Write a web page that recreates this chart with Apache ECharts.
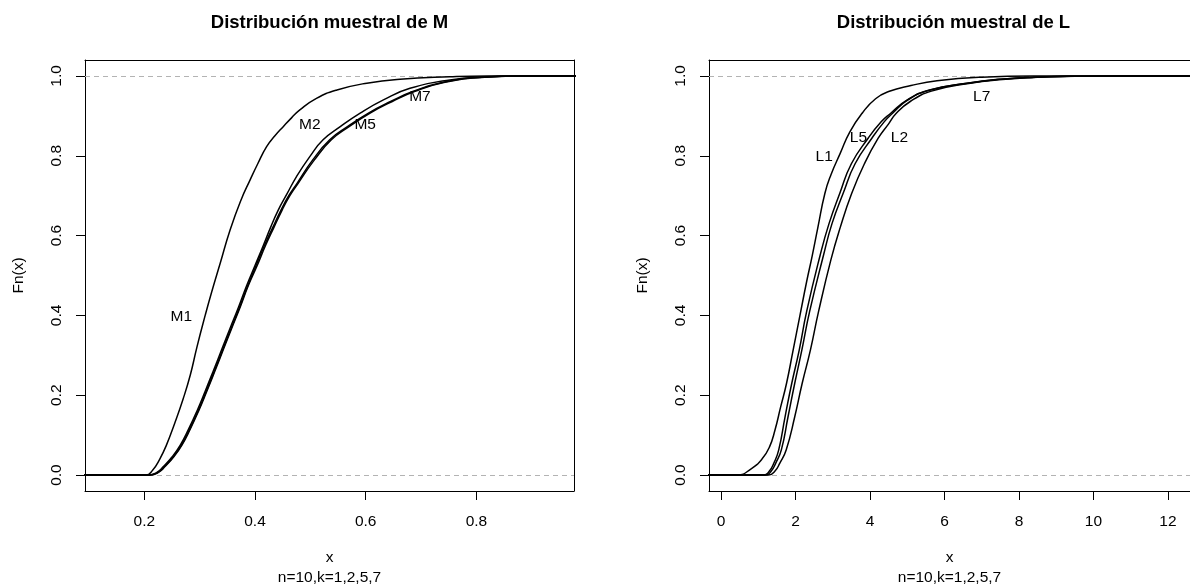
<!DOCTYPE html>
<html>
<head>
<meta charset="utf-8">
<script src="https://cdn.jsdelivr.net/npm/echarts@6/dist/echarts.min.js"></script>
<style>
html,body{margin:0;padding:0;background:#fff;}
#chart{width:1190px;height:584px;}
</style>
</head>
<body>
<div id="chart"></div>
<script>
// ---- Left panel: ECDF curves of M (x, Fn(x)) ----
const M1 = [[0.09,0],[0.203,0],[0.215,0.012],[0.228,0.04],[0.24,0.075],[0.255,0.13],[0.27,0.19],[0.283,0.25],[0.295,0.32],[0.31,0.40],[0.322,0.46],[0.337,0.53],[0.355,0.614],[0.375,0.69],[0.391,0.739],[0.405,0.78],[0.421,0.823],[0.436,0.85],[0.451,0.873],[0.466,0.895],[0.481,0.915],[0.511,0.944],[0.548,0.965],[0.602,0.982],[0.662,0.992],[0.752,0.998],[0.82,1.0],[0.98,1.0]];
const M2 = [[0.09,0],[0.208,0],[0.222,0.006],[0.235,0.022],[0.25,0.045],[0.265,0.075],[0.28,0.115],[0.295,0.16],[0.31,0.21],[0.325,0.262],[0.34,0.315],[0.355,0.368],[0.37,0.42],[0.385,0.475],[0.40,0.525],[0.415,0.575],[0.428,0.62],[0.442,0.664],[0.458,0.705],[0.475,0.748],[0.499,0.798],[0.523,0.840],[0.554,0.873],[0.590,0.907],[0.632,0.940],[0.680,0.969],[0.752,0.990],[0.82,0.998],[0.87,1],[0.98,1]];
const M5 = [[0.09,0],[0.21,0],[0.224,0.006],[0.237,0.022],[0.252,0.045],[0.267,0.075],[0.282,0.115],[0.297,0.16],[0.312,0.21],[0.327,0.262],[0.342,0.315],[0.357,0.368],[0.372,0.42],[0.387,0.475],[0.402,0.525],[0.417,0.575],[0.432,0.62],[0.447,0.664],[0.461,0.70],[0.476,0.731],[0.504,0.789],[0.535,0.840],[0.567,0.873],[0.605,0.907],[0.645,0.936],[0.685,0.961],[0.74,0.984],[0.81,0.997],[0.88,1],[0.98,1]];
const M7 = [[0.09,0],[0.211,0],[0.225,0.006],[0.238,0.022],[0.253,0.045],[0.268,0.075],[0.283,0.115],[0.298,0.16],[0.313,0.21],[0.328,0.262],[0.343,0.315],[0.358,0.368],[0.373,0.42],[0.388,0.475],[0.404,0.525],[0.419,0.575],[0.434,0.62],[0.449,0.664],[0.463,0.70],[0.478,0.731],[0.507,0.789],[0.538,0.840],[0.570,0.873],[0.608,0.907],[0.648,0.936],[0.688,0.961],[0.743,0.984],[0.815,0.997],[0.89,1],[0.98,1]];

// ---- Right panel: ECDF curves of L ----
const L1 = [[-0.5,0],[0.45,0],[0.8,0.015],[1.1,0.04],[1.3,0.07],[1.45,0.113],[1.6,0.17],[1.76,0.23],[1.93,0.31],[2.12,0.40],[2.3,0.485],[2.45,0.55],[2.6,0.62],[2.79,0.706],[2.95,0.752],[3.2,0.806],[3.46,0.86],[3.8,0.908],[4.15,0.943],[4.5,0.961],[5.1,0.976],[5.8,0.988],[7.0,0.997],[8.4,1.0],[13,1]];
const L5 = [[-0.5,0],[1.15,0],[1.3,0.01],[1.42,0.03],[1.55,0.063],[1.72,0.146],[1.9,0.23],[2.1,0.313],[2.3,0.41],[2.66,0.55],[2.9,0.63],[3.19,0.706],[3.5,0.78],[3.95,0.844],[4.3,0.885],[4.55,0.906],[5.0,0.94],[5.6,0.965],[6.6,0.982],[7.5,0.992],[8.4,0.997],[9.3,0.999],[10.5,1],[13,1]];
const L7 = [[-0.5,0],[1.2,0],[1.35,0.01],[1.47,0.03],[1.62,0.063],[1.80,0.146],[1.98,0.23],[2.17,0.313],[2.38,0.41],[2.75,0.55],[2.98,0.63],[3.28,0.706],[3.6,0.78],[4.05,0.844],[4.38,0.885],[4.6,0.906],[5.02,0.94],[5.62,0.965],[6.62,0.982],[7.52,0.992],[8.45,0.997],[9.4,0.999],[10.6,1],[13,1]];
const L2 = [[-0.5,0],[1.28,0],[1.45,0.01],[1.58,0.03],[1.75,0.063],[1.98,0.146],[2.18,0.23],[2.4,0.313],[2.62,0.41],[2.95,0.539],[3.2,0.62],[3.51,0.706],[3.85,0.78],[4.22,0.844],[4.5,0.88],[4.7,0.906],[5.08,0.936],[5.65,0.962],[6.65,0.981],[7.55,0.991],[8.5,0.997],[9.5,0.999],[10.8,1],[13,1]];

// ---- In-plot text labels ----
const labelsM = ['M1','M2','M5','M7'];
const labelsMpos = [[0.267,0.397],[0.499,0.877],[0.599,0.877],[0.698,0.948]];
const labelsL = ['L1','L5','L2','L7'];
const labelsLpos = [[2.77,0.798],[3.69,0.846],[4.79,0.846],[7.0,0.948]];

// ---- Axis ticks / texts ----
const xTicksM = [0.2,0.4,0.6,0.8];
const xTicksL = [0,2,4,6,8,10,12];
const yTicks = [0,0.2,0.4,0.6,0.8,1.0];
const titles = ['Distribución muestral de M','Distribución muestral de L'];
const xName = 'x';
const subName = 'n=10,k=1,2,5,7';
const yName = 'Fn(x)';
const refLines = [0,1];

const FONT = 'Liberation Sans, Arial, Helvetica, sans-serif';
const chart = echarts.init(document.getElementById('chart'), null, {renderer:'canvas'});

function curve(data, xi, yi, withRef){
  const s = {
    type:'line', data:data, xAxisIndex:xi, yAxisIndex:yi,
    showSymbol:false, symbol:'none', smooth:0.5,
    lineStyle:{color:'#000', width:1.5}, silent:true, z:3
  };
  if (withRef){
    s.markLine = {
      silent:true, symbol:['none','none'], label:{show:false},
      lineStyle:{color:'#b3b3b3', type:[5,4], width:1},
      data: refLines.map(v => ({yAxis:v})), z:2
    };
  }
  return s;
}
function labelSeries(names, pos, xi, yi){
  return {
    type:'scatter', xAxisIndex:xi, yAxisIndex:yi, symbolSize:0,
    itemStyle:{color:'#000', opacity:1}, silent:true, z:5,
    label:{show:true, position:'inside', formatter:'{b}', color:'#000', opacity:1, textBorderWidth:0, fontSize:15.5, fontFamily:FONT},
    data: names.map((n,i) => ({name:n, value:pos[i]}))
  };
}
function xAxisDef(idx, min, max, ticks, fmt){
  return {
    type:'value', gridIndex:idx, position:'bottom', min:min, max:max,
    axisLine:{show:true, onZero:false, lineStyle:{color:'#000', width:1}},
    axisTick:{show:true, length:9, customValues:ticks, lineStyle:{color:'#000', width:1}},
    axisLabel:{show:true, customValues:ticks, margin:23, color:'#000', fontSize:15.5, fontFamily:FONT, formatter:fmt},
    splitLine:{show:false},
    name: xName + '\n' + subName, nameLocation:'middle', nameGap:57,
    nameTextStyle:{color:'#000', fontSize:15.5, fontFamily:FONT, lineHeight:20}
  };
}
function topAxisDef(idx, min, max){
  return {
    type:'value', gridIndex:idx, position:'top', min:min, max:max,
    axisLine:{show:true, onZero:false, lineStyle:{color:'#000', width:1}},
    axisTick:{show:false}, axisLabel:{show:false}, splitLine:{show:false}
  };
}
function yAxisDef(idx){
  return {
    type:'value', gridIndex:idx, position:'left', min:-0.04, max:1.04,
    axisLine:{show:true, onZero:false, lineStyle:{color:'#000', width:1}},
    axisTick:{show:true, length:9, customValues:yTicks, lineStyle:{color:'#000', width:1}},
    axisLabel:{show:true, customValues:yTicks, rotate:90, margin:20, color:'#000', fontSize:15.5, fontFamily:FONT, formatter:v => v.toFixed(1)},
    splitLine:{show:false},
    name: yName, nameLocation:'middle', nameGap:58,
    nameTextStyle:{color:'#000', fontSize:15.5, fontFamily:FONT}
  };
}
function rightAxisDef(idx){
  return {
    type:'value', gridIndex:idx, position:'right', min:-0.04, max:1.04,
    axisLine:{show:true, onZero:false, lineStyle:{color:'#000', width:1}},
    axisTick:{show:false}, axisLabel:{show:false}, splitLine:{show:false}
  };
}

const option = {
  animation:false,
  backgroundColor:'#fff',
  graphic:[
    {type:'text', x:329.5, y:22.5, style:{text:titles[0], font:'bold 18.5px '+FONT, fill:'#000', align:'center', verticalAlign:'middle'}},
    {type:'text', x:953.5, y:22.5, style:{text:titles[1], font:'bold 18.5px '+FONT, fill:'#000', align:'center', verticalAlign:'middle'}}
  ],
  grid:[
    {left:85, top:60, width:489, height:431, show:false, containLabel:false, outerBoundsMode:'none'},
    {left:709, top:60, width:481, height:431, show:false, containLabel:false, outerBoundsMode:'none'}
  ],
  xAxis:[
    xAxisDef(0, 0.0929, 0.9763, xTicksM, v => v.toFixed(1)),
    xAxisDef(1, -0.322, 12.591, xTicksL, v => String(Math.round(v))),
    topAxisDef(0, 0.0929, 0.9763),
    topAxisDef(1, -0.322, 12.591)
  ],
  yAxis:[ yAxisDef(0), yAxisDef(1), rightAxisDef(0) ],
  series:[
    curve(M1,0,0,true), curve(M2,0,0,false), curve(M5,0,0,false), curve(M7,0,0,false),
    curve(L1,1,1,true), curve(L5,1,1,false), curve(L7,1,1,false), curve(L2,1,1,false),
    labelSeries(labelsM, labelsMpos, 0, 0),
    labelSeries(labelsL, labelsLpos, 1, 1)
  ]
};
chart.setOption(option);
</script>
</body>
</html>
